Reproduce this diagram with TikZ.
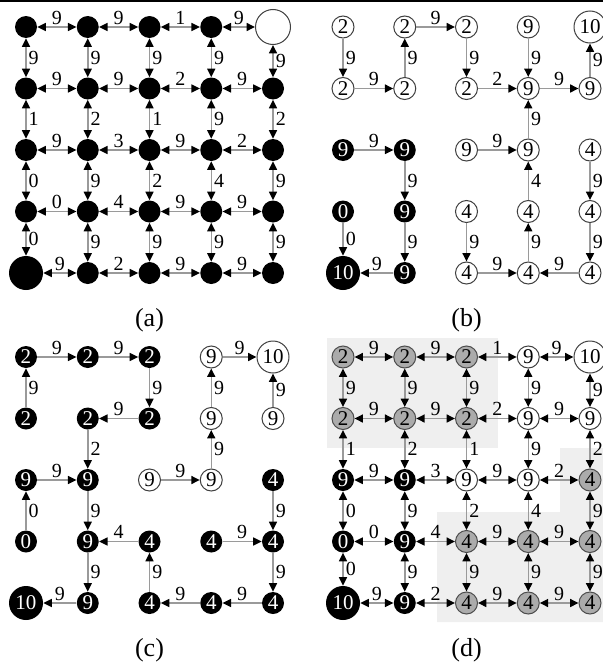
\documentclass[tikz,border=0pt]{standalone}
\usepackage{fontspec}
\setmainfont{Liberation Serif}
\usetikzlibrary{positioning, arrows.meta}
\definecolor{edgegray}{HTML}{9A9A9A}
\definecolor{nodegray}{HTML}{ABABAB}
\definecolor{lightbg}{HTML}{EFEFEF}

\begin{document}
\begin{tikzpicture}[x=0.5pt, y=-0.5pt,
  vtx/.style={circle, inner sep=0pt, minimum size=11pt, font=\fontsize{10.5}{11}\selectfont},
  blk/.style={vtx, fill=black, text=white},
  wht/.style={vtx, draw=black!75, line width=0.5pt, fill=white},
  gry/.style={vtx, draw=black!70, line width=0.5pt, fill=nodegray},
  bigblk/.style={blk, minimum size=17pt},
  bigwht/.style={wht, minimum size=16pt},
  bigring/.style={wht, minimum size=17.5pt},
  link/.style={draw=edgegray, line width=0.75pt},
  one/.style={link, -{Triangle[length=4.2pt, width=4pt, color=black]}},
  two/.style={link, {Triangle[length=4.2pt, width=4pt, color=black]}-{Triangle[length=4.2pt, width=4pt, color=black]}},
  wt/.style={inner sep=1pt, font=\fontsize{10}{11}\selectfont},
  panel/.style={inner sep=0pt, font=\fontsize{13}{14}\selectfont}]
  \useasboundingbox (0,0) rectangle (603,664);
  \draw[line width=1pt] (0,1) -- (603,1);
  % shaded regions of (d)
  \fill[lightbg] (327,338) rectangle (498,448);
  \fill[lightbg] (560,448) -- (603,448) -- (603,622) -- (437,622) -- (437,512) -- (560,512) -- cycle;

  % (a)
  \foreach \sty [count=\c] in {blk,blk,blk,blk,bigring}
    \node[\sty] (a1\c) at ({26+61.75*(\c-1)}, 27) {};
  \foreach \sty [count=\c] in {blk,blk,blk,blk,blk}
    \node[\sty] (a2\c) at ({26+61.75*(\c-1)}, 88.5) {};
  \foreach \sty [count=\c] in {blk,blk,blk,blk,blk}
    \node[\sty] (a3\c) at ({26+61.75*(\c-1)}, 150) {};
  \foreach \sty [count=\c] in {blk,blk,blk,blk,blk}
    \node[\sty] (a4\c) at ({26+61.75*(\c-1)}, 211.5) {};
  \foreach \sty [count=\c] in {bigblk,blk,blk,blk,blk}
    \node[\sty] (a5\c) at ({26+61.75*(\c-1)}, 273) {};

  % (b)
  \foreach \lab/\sty [count=\c] in {2/wht,2/wht,2/wht,9/wht,10/bigwht}
    \node[\sty] (b1\c) at ({343+61.75*(\c-1)}, 27) {\lab};
  \foreach \lab/\sty [count=\c] in {2/wht,2/wht,2/wht,9/wht,9/wht}
    \node[\sty] (b2\c) at ({343+61.75*(\c-1)}, 88.5) {\lab};
  \foreach \lab/\sty [count=\c] in {9/blk,9/blk,9/wht,9/wht,4/wht}
    \node[\sty] (b3\c) at ({343+61.75*(\c-1)}, 150) {\lab};
  \foreach \lab/\sty [count=\c] in {0/blk,9/blk,4/wht,4/wht,4/wht}
    \node[\sty] (b4\c) at ({343+61.75*(\c-1)}, 211.5) {\lab};
  \foreach \lab/\sty [count=\c] in {10/bigblk,9/blk,4/wht,4/wht,4/wht}
    \node[\sty] (b5\c) at ({343+61.75*(\c-1)}, 273) {\lab};

  % (c)
  \foreach \lab/\sty [count=\c] in {2/blk,2/blk,2/blk,9/wht,10/bigwht}
    \node[\sty] (c1\c) at ({26+61.75*(\c-1)}, 357) {\lab};
  \foreach \lab/\sty [count=\c] in {2/blk,2/blk,2/blk,9/wht,9/wht}
    \node[\sty] (c2\c) at ({26+61.75*(\c-1)}, 418.5) {\lab};
  \foreach \lab/\sty [count=\c] in {9/blk,9/blk,9/wht,9/wht,4/blk}
    \node[\sty] (c3\c) at ({26+61.75*(\c-1)}, 480) {\lab};
  \foreach \lab/\sty [count=\c] in {0/blk,9/blk,4/blk,4/blk,4/blk}
    \node[\sty] (c4\c) at ({26+61.75*(\c-1)}, 541.5) {\lab};
  \foreach \lab/\sty [count=\c] in {10/bigblk,9/blk,4/blk,4/blk,4/blk}
    \node[\sty] (c5\c) at ({26+61.75*(\c-1)}, 603) {\lab};

  % (d)
  \foreach \lab/\sty [count=\c] in {2/gry,2/gry,2/gry,9/wht,10/bigwht}
    \node[\sty] (d1\c) at ({343+61.75*(\c-1)}, 357) {\lab};
  \foreach \lab/\sty [count=\c] in {2/gry,2/gry,2/gry,9/wht,9/wht}
    \node[\sty] (d2\c) at ({343+61.75*(\c-1)}, 418.5) {\lab};
  \foreach \lab/\sty [count=\c] in {9/blk,9/blk,9/wht,9/wht,4/gry}
    \node[\sty] (d3\c) at ({343+61.75*(\c-1)}, 480) {\lab};
  \foreach \lab/\sty [count=\c] in {0/blk,9/blk,4/gry,4/gry,4/gry}
    \node[\sty] (d4\c) at ({343+61.75*(\c-1)}, 541.5) {\lab};
  \foreach \lab/\sty [count=\c] in {10/bigblk,9/blk,4/gry,4/gry,4/gry}
    \node[\sty] (d5\c) at ({343+61.75*(\c-1)}, 603) {\lab};

  % two-way links of the full grids
  \foreach \p in {a,d} {
    \foreach \r/\c/\w in {1/1/9,1/2/9,1/3/1,1/4/9, 2/1/9,2/2/9,2/3/2,2/4/9,
        3/1/9,3/2/3,3/3/9,3/4/2, 4/1/0,4/2/4,4/3/9,4/4/9, 5/1/9,5/2/2,5/3/9,5/4/9} {
      \pgfmathtruncatemacro\n{\c+1}
      \draw[two] (\p\r\c) -- node[wt, above]{\w} (\p\r\n);
    }
    \foreach \r/\c/\w in {1/1/9,1/2/9,1/3/9,1/4/9,1/5/9, 2/1/1,2/2/2,2/3/1,2/4/9,2/5/2,
        3/1/0,3/2/9,3/3/2,3/4/4,3/5/9, 4/1/0,4/2/9,4/3/9,4/4/9,4/5/9} {
      \pgfmathtruncatemacro\n{\r+1}
      \draw[two] (\p\r\c) -- node[wt, right]{\w} (\p\n\c);
    }
  }

  % one-way links
  \foreach \f/\t/\w/\s in {11/21/9/right, 21/22/9/above, 22/12/9/right, 12/13/9/above,
      13/23/9/right, 23/24/2/above, 14/24/9/right, 24/25/9/above, 25/15/9/right,
      34/24/9/right, 33/34/9/above, 44/34/4/right, 54/44/9/right, 43/53/9/right,
      53/54/9/above, 55/54/9/above, 35/45/9/right, 45/55/9/right, 31/32/9/above,
      32/42/9/right, 42/52/9/right, 52/51/9/above, 41/51/0/right}
    \draw[one] (b\f) -- node[wt, \s]{\w} (b\t);
  \foreach \f/\t/\w/\s in {21/11/9/right, 11/12/9/above, 12/13/9/above, 13/23/9/right,
      23/22/9/above, 22/32/2/right, 31/32/9/above, 41/31/0/right, 32/42/9/right,
      43/42/4/above, 42/52/9/right, 52/51/9/above, 53/43/9/right, 54/53/9/above,
      55/54/9/above, 45/55/9/right, 35/45/9/right, 44/45/9/above, 33/34/9/above,
      34/24/9/right, 24/14/9/right, 14/15/9/above, 25/15/9/right}
    \draw[one] (c\f) -- node[wt, \s]{\w} (c\t);

  % captions
  \node[panel, below=12pt of a53] (capa) {(a)};
  \node[panel, below=12pt of b53] (capb) {(b)};
  \node[panel, below=12pt of c53] (capc) {(c)};
  \node[panel, below=12pt of d53] (capd) {(d)};
\end{tikzpicture}
\end{document}
